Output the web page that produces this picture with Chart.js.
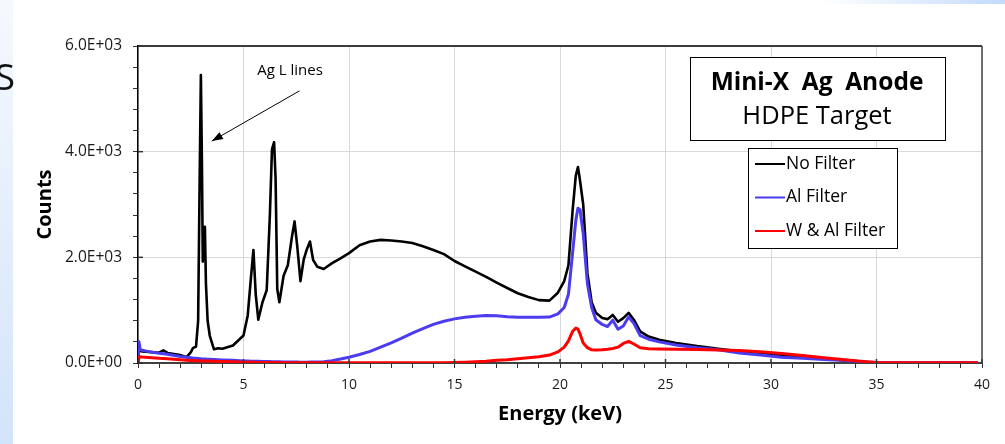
<!DOCTYPE html>
<html>
<head>
<meta charset="utf-8">
<script src="https://cdn.jsdelivr.net/npm/chart.js@4/dist/chart.umd.min.js"></script>
<style>
  html, body { margin: 0; padding: 0; background: #fff; }
  #spectrum { display: block; }
</style>
</head>
<body>
<canvas id="spectrum" width="1005" height="444"></canvas>
<script>
// Energy channels (keV)
const energyKeV = [
  0, 0.05, 0.1, 0.2, 0.5, 1.0, 1.2, 1.4, 2.0, 2.3,
  2.5, 2.6, 2.75, 2.85, 2.92, 2.98, 3.03, 3.07, 3.12, 3.17,
  3.22, 3.3, 3.4, 3.6, 3.8, 4.0, 4.5, 5.0, 5.2, 5.35,
  5.47, 5.58, 5.7, 5.9, 6.1, 6.25, 6.35, 6.45, 6.52, 6.6,
  6.7, 6.9, 7.1, 7.3, 7.42, 7.55, 7.7, 7.85, 8.0, 8.15,
  8.3, 8.5, 8.8, 9.2, 9.6, 10, 10.5, 11, 11.5, 12,
  12.5, 13, 13.5, 14, 14.5, 15, 15.5, 16, 16.5, 17,
  17.5, 18, 18.5, 19, 19.5, 19.9, 20.2, 20.4, 20.6, 20.75,
  20.85, 20.95, 21.1, 21.3, 21.5, 21.7, 22.0, 22.25, 22.5, 22.75,
  23.0, 23.25, 23.5, 23.8, 24.2, 24.7, 25.5, 26.5, 27.5, 28.5,
  29.5, 30.5, 31.5, 32.5, 33.5, 34.5, 35, 36, 37, 38,
  39, 39.8
];

const noFilter = [
  0, 240, 230, 220, 210, 195, 240, 190, 150, 110,
  200, 280, 310, 800, 3400, 5450, 3800, 1920, 2300, 2580,
  1500, 800, 520, 260, 280, 270, 330, 520, 900, 1600,
  2140, 1300, 820, 1150, 1380, 2800, 4050, 4180, 3500, 1400,
  1150, 1650, 1850, 2400, 2680, 2200, 1550, 1950, 2150, 2300,
  1950, 1820, 1780, 1890, 1980, 2080, 2230, 2300, 2330, 2320,
  2300, 2270, 2210, 2140, 2060, 1930, 1830, 1730, 1630, 1520,
  1420, 1320, 1250, 1190, 1180, 1330, 1550, 1850, 2900, 3550,
  3710, 3450, 3000, 1700, 1150, 950, 850, 830, 910, 780,
  850, 950, 820, 600, 500, 440, 380, 320, 270, 220,
  190, 150, 115, 85, 50, 20, 10, 6, 5, 5,
  4, 4
];

const alFilter = [
  0, 400, 260, 240, 215, 185, 175, 165, 125, 110,
  100, 95, 90, 85, 82, 80, 78, 77, 76, 75,
  74, 72, 70, 66, 62, 58, 50, 40, 37, 35,
  34, 33, 32, 30, 28, 27, 26, 25, 25, 24,
  23, 21, 19, 18, 17, 17, 16, 16, 16, 17,
  18, 20, 26, 45, 75, 110, 160, 220, 300, 380,
  470, 565, 650, 730, 790, 835, 865, 885, 900, 895,
  875, 865, 865, 865, 870, 930, 1050, 1300, 2100, 2700,
  2930, 2900, 2450, 1500, 1050, 820, 730, 690, 810, 640,
  700, 870, 750, 520, 450, 400, 340, 290, 250, 190,
  150, 110, 90, 65, 45, 20, 10, 6, 5, 5,
  4, 4
];

const wAlFilter = [
  0, 110, 120, 115, 105, 90, 85, 80, 60, 52,
  48, 46, 44, 42, 41, 40, 40, 39, 39, 38,
  38, 37, 36, 33, 30, 28, 22, 16, 14, 13,
  12, 12, 11, 10, 9, 9, 8, 8, 8, 8,
  7, 6, 6, 5, 5, 5, 4, 4, 4, 4,
  4, 3, 3, 3, 3, 3, 3, 3, 3, 3,
  3, 3, 4, 5, 7, 10, 15, 22, 32, 50,
  60, 80, 100, 120, 150, 210, 300, 420, 600, 660,
  640, 550, 380, 290, 250, 245, 250, 260, 275, 300,
  370, 410, 360, 290, 270, 265, 262, 255, 245, 235,
  215, 180, 140, 100, 60, 25, 8, 5, 4, 4,
  4, 4
];

const seriesNames = ["No Filter", "Al Filter", "W & Al Filter"];
const seriesColors = ["#000000", "#4b3cf0", "#ff0000"];
const xTickLabels = ["0", "5", "10", "15", "20", "25", "30", "35", "40"];
const yTickLabels = ["0.0E+00", "2.0E+03", "4.0E+03", "6.0E+03"];
const chartTitle = ["Mini-X  Ag  Anode", "HDPE Target"];
const peakNote = "Ag L lines";

const FONT = "'Open Sans'";
Chart.defaults.font.family = FONT;
Chart.defaults.color = "#1a1a1a";

const toPoints = (values) => energyKeV.map((e, i) => ({ x: e, y: values[i] }));

// slide background bits + boxes/annotation drawn around the chart
const decorPlugin = {
  id: "decor",
  beforeDraw(chart) {
    const { ctx, width, height } = chart;
    ctx.save();
    ctx.fillStyle = "#fff";
    ctx.fillRect(0, 0, width, height);

    const side = ctx.createLinearGradient(0, 0, 0, height);
    side.addColorStop(0, "#f6f9fe");
    side.addColorStop(1, "#d2e4fa");
    ctx.fillStyle = side;
    ctx.fillRect(0, 0, 13, height);

    const top = ctx.createLinearGradient(820, 0, width, 0);
    top.addColorStop(0, "rgba(199,221,251,0)");
    top.addColorStop(1, "#c2dafb");
    ctx.fillStyle = top;
    ctx.fillRect(820, 0, width - 820, 4);

    ctx.fillStyle = "#111";
    ctx.font = "37px " + FONT;
    ctx.textAlign = "right";
    ctx.textBaseline = "alphabetic";
    ctx.fillText("S", 15, 90);
    ctx.restore();
  },
  afterDraw(chart) {
    const { ctx, chartArea: a, scales } = chart;
    const xs = scales.x, ys = scales.y;
    ctx.save();

    // plot border top / right
    ctx.lineWidth = 1.5;
    ctx.strokeStyle = "#000";
    ctx.beginPath();
    ctx.moveTo(a.left, a.top);
    ctx.lineTo(a.right, a.top);
    ctx.stroke();
    ctx.strokeStyle = "#444";
    ctx.beginPath();
    ctx.moveTo(a.right, a.top);
    ctx.lineTo(a.right, a.bottom);
    ctx.stroke();

    // major ticks cross the axes
    ctx.lineWidth = 1.5;
    ctx.strokeStyle = "#333";
    xs.ticks.forEach((t) => {
      if (t.value % 5 !== 0) return;
      const px = xs.getPixelForValue(t.value);
      ctx.beginPath();
      ctx.moveTo(px, a.bottom);
      ctx.lineTo(px, a.bottom - 4);
      ctx.stroke();
    });
    ys.ticks.forEach((t) => {
      if (t.value % 2000 !== 0) return;
      const py = ys.getPixelForValue(t.value);
      ctx.beginPath();
      ctx.moveTo(a.left, py);
      ctx.lineTo(a.left + 5, py);
      ctx.stroke();
    });

    // title box
    ctx.fillStyle = "#fff";
    ctx.fillRect(690, 57, 255, 83);
    ctx.lineWidth = 1;
    ctx.strokeStyle = "#000";
    ctx.strokeRect(690.5, 57.5, 255, 83);
    ctx.fillStyle = "#000";
    ctx.textAlign = "center";
    ctx.textBaseline = "alphabetic";
    ctx.font = "bold 24.5px " + FONT;
    ctx.fillText(chartTitle[0], 817, 90);
    ctx.font = "25.5px " + FONT;
    ctx.fillText(chartTitle[1], 817, 124);

    // legend box
    ctx.fillStyle = "#fff";
    ctx.fillRect(748, 148, 149, 100);
    ctx.strokeStyle = "#000";
    ctx.strokeRect(748.5, 148.5, 149, 100);
    ctx.font = "17.5px " + FONT;
    ctx.textAlign = "left";
    ctx.textBaseline = "middle";
    seriesNames.forEach((name, i) => {
      const y = 164 + i * 33.5;
      ctx.strokeStyle = seriesColors[i];
      ctx.lineWidth = 2;
      ctx.beginPath();
      ctx.moveTo(755, y);
      ctx.lineTo(785, y);
      ctx.stroke();
      ctx.fillStyle = "#000";
      ctx.fillText(name, 786, y);
    });

    // annotation + arrow
    ctx.font = "15px " + FONT;
    ctx.textAlign = "center";
    ctx.textBaseline = "alphabetic";
    ctx.fillStyle = "#000";
    ctx.fillText(peakNote, 290, 75);
    const tx = xs.getPixelForValue(3.5), ty = ys.getPixelForValue(4200);
    const sx = xs.getPixelForValue(7.65), sy = ys.getPixelForValue(5150);
    ctx.strokeStyle = "#000";
    ctx.lineWidth = 1;
    ctx.beginPath();
    ctx.moveTo(sx, sy);
    ctx.lineTo(tx, ty);
    ctx.stroke();
    const ang = Math.atan2(ty - sy, tx - sx);
    ctx.beginPath();
    ctx.moveTo(tx, ty);
    ctx.lineTo(tx - 11 * Math.cos(ang) + 4 * Math.sin(ang), ty - 11 * Math.sin(ang) - 4 * Math.cos(ang));
    ctx.lineTo(tx - 11 * Math.cos(ang) - 4 * Math.sin(ang), ty - 11 * Math.sin(ang) + 4 * Math.cos(ang));
    ctx.closePath();
    ctx.fill();
    ctx.restore();
  }
};

const makeSet = (i, values, order, width) => ({
  label: seriesNames[i],
  data: toPoints(values),
  borderColor: seriesColors[i],
  borderWidth: width,
  pointRadius: 0,
  tension: 0,
  borderJoinStyle: "round",
  order: order,
});

new Chart(document.getElementById("spectrum"), {
  type: "line",
  data: {
    datasets: [
      makeSet(0, noFilter, 3, 2.6),
      makeSet(1, alFilter, 2, 3),
      makeSet(2, wAlFilter, 1, 3),
    ],
  },
  options: {
    responsive: false,
    animation: false,
    layout: { padding: { top: 46, right: 23, left: 0, bottom: 0 } },
    plugins: {
      legend: { display: false },
      tooltip: { enabled: false },
    },
    scales: {
      x: {
        type: "linear",
        min: 0,
        max: 40,
        afterFit: (s) => { s.height = 81; },
        ticks: {
          stepSize: 1,
          autoSkip: false,
          maxRotation: 0,
          padding: 9,
          font: { size: 14 },
          color: "#1a1a1a",
          callback: (v) => (v % 5 === 0 ? xTickLabels[v / 5] : ""),
        },
        grid: {
          color: (c) => (c.tick && c.tick.value % 5 === 0 ? "#d9d9d9" : "rgba(0,0,0,0)"),
          tickColor: "#333",
          tickLength: 5,
          lineWidth: 1,
        },
        border: { color: "#404040", width: 2 },
        title: {
          display: true,
          text: "Energy (keV)",
          font: { size: 20, weight: "bold" },
          color: "#000",
          padding: { top: 0, bottom: 18 },
        },
      },
      y: {
        min: 0,
        max: 6000,
        afterFit: (s) => { s.width = 138; },
        ticks: {
          stepSize: 400,
          autoSkip: false,
          padding: 11,
          font: { size: 15.5 },
          color: "#1a1a1a",
          callback: (v) => (v % 2000 === 0 ? yTickLabels[v / 2000] : ""),
        },
        grid: {
          color: (c) => (c.tick && c.tick.value % 2000 === 0 ? "#d9d9d9" : "rgba(0,0,0,0)"),
          tickColor: "#333",
          tickLength: 5,
          lineWidth: 1,
        },
        border: { color: "#000", width: 1.5 },
        title: {
          display: true,
          text: "Counts",
          font: { size: 20, weight: "bold" },
          color: "#000",
          padding: { top: 33, bottom: 0 },
        },
      },
    },
  },
  plugins: [decorPlugin],
});
</script>
</body>
</html>
